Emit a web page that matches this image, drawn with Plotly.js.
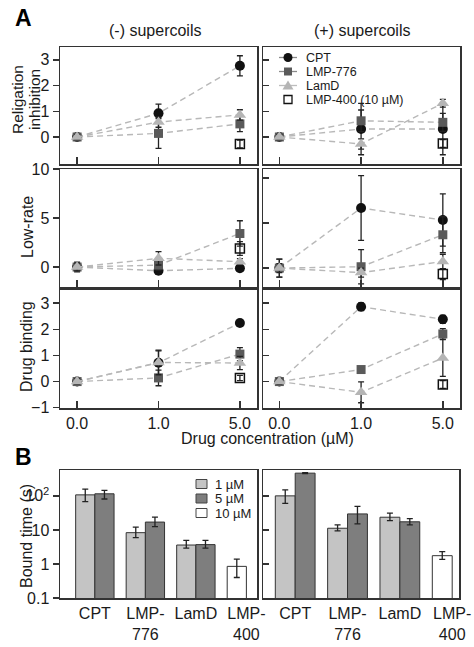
<!DOCTYPE html>
<html>
<head>
<meta charset="utf-8">
<script src="https://cdn.plot.ly/plotly-3.0.1.min.js"></script>
<style>html,body{margin:0;padding:0;background:#fff;}#chart{width:474px;height:647px;}</style>
</head>
<body>
<div id="chart"></div>
<script>
// ---------- DATA ----------
const conc = ['0.0', '1.0', '5.0'];
const conc400 = ['5.0'];

// Religation inhibition, (-) supercoils
const relNegCPT = [0, 0.92, 2.77],  relNegCPTErr = [0.1, 0.36, 0.39];
const relNeg776 = [0, 0.14, 0.51],  relNeg776Err = [0.1, 0.58, 0.3];
const relNegLamD = [0, 0.58, 0.86], relNegLamDErr = [0.1, 0.2, 0.2];
const relNeg400 = [-0.27],          relNeg400Err = [0.15];
// Religation inhibition, (+) supercoils
const relPosCPT = [0, 0.31, 0.31],  relPosCPTErr = [0.1, 1.0, 1.0];
const relPos776 = [0, 0.63, 0.57],  relPos776Err = [0.1, 0.42, 0.35];
const relPosLamD = [0, -0.27, 1.31], relPosLamDErr = [0.1, 0.2, 0.15];
const relPos400 = [-0.25],          relPos400Err = [0.15];
// Low-rate, (-) supercoils
const lowNegCPT = [0, -0.38, -0.13], lowNegCPTErr = [0.3, 0.3, 0.3];
const lowNeg776 = [0, 0.2, 3.43],    lowNeg776Err = [0.5, 0.5, 1.3];
const lowNegLamD = [0, 0.89, 0.55],  lowNegLamDErr = [0.4, 0.68, 0.3];
const lowNeg400 = [1.9],             lowNeg400Err = [0.7];
// Low-rate, (+) supercoils
const lowPosCPT = [0, 6.67, 5.33],   lowPosCPTErr = [1.0, 3.6, 2.9];
const lowPos776 = [0, 0.15, 3.7],    lowPos776Err = [1.0, 1.9, 2.0];
const lowPosLamD = [0, -0.5, 0.73],  lowPosLamDErr = [0.5, 0.5, 0.8];
const lowPos400 = [-0.67],           lowPos400Err = [0.6];
// Drug binding, (-) supercoils
const bindNegCPT = [0, 0.72, 2.24],  bindNegCPTErr = [0.1, 0.45, 0.1];
const bindNeg776 = [0, 0.14, 1.05],  bindNeg776Err = [0.1, 0.3, 0.25];
const bindNegLamD = [0, 0.73, 0.71], bindNegLamDErr = [0.1, 0.47, 0.25];
const bindNeg400 = [0.14],           bindNeg400Err = [0.1];
// Drug binding, (+) supercoils
const bindPosCPT = [0, 2.86, 2.38],  bindPosCPTErr = [0.1, 0.15, 0.15];
const bindPos776 = [0, 0.46, 1.82],  bindPos776Err = [0.1, 0.1, 0.2];
const bindPosLamD = [0, -0.41, 0.9], bindPosLamDErr = [0.1, 0.4, 0.7];
const bindPos400 = [-0.11],          bindPos400Err = [0.15];

// Panel B: bound time (s)
const drugs = ['CPT', 'LMP-776', 'LamD', 'LMP-400'];
const drugLabels = ['CPT', 'LMP-<br>776', 'LamD', 'LMP-<br>400'];
const negBar1 = [107, 8.3, 3.6, null],  negBar1Up = [51, 3.7, 1.3, 0],  negBar1Dn = [39, 2.4, 0.7, 0];
const negBar5 = [115, 17, 3.7, null],   negBar5Up = [30, 6.6, 1.2, 0],  negBar5Dn = [34, 4.5, 0.8, 0];
const negBar10 = [null, null, null, 0.85], negBar10Up = [0, 0, 0, 0.53], negBar10Dn = [0, 0, 0, 0.45];
const posBar1 = [100, 11.2, 23.6, null], posBar1Up = [50, 2.8, 7.4, 0], posBar1Dn = [40, 1.8, 4.9, 0];
const posBar5 = [465, 29.5, 17.3, null], posBar5Up = [15, 19.5, 4.2, 0], posBar5Dn = [15, 14.5, 3.3, 0];
const posBar10 = [null, null, null, 1.75], posBar10Up = [0, 0, 0, 0.55], posBar10Dn = [0, 0, 0, 0.38];

const seriesNames = ['CPT', 'LMP-776', 'LamD', 'LMP-400 (10 µM)'];
const barNames = ['1 µM', '5 µM', '10 µM'];
const tickY1 = [0, 1, 2, 3];
const tickY2 = [0, 5, 10];
const tickY3 = [-1, 0, 1, 2, 3];
const tickB = [0.1, 1, 10, 100];
const tickBText = ['0.1', '1', '10', '10<sup>2</sup>'];

// ---------- HELPERS ----------
const W = 474, H = 647;
const fx = p => p / W;
const fy = p => 1 - p / H;
const FONT = 'Liberation Sans, Arial, sans-serif';
const INK = '#1a1a1a';
const C_CPT = '#111111', C_776 = '#5a5a5a', C_LAMD = '#b5b5b5';
const LINE_C = '#b8b8b8';
const errStyle = (arr) => ({type: 'data', array: arr, color: '#222', thickness: 1.3, width: 3});

const traces = [];
function addPanel(n, cpt, cptE, l776, l776E, lamd, lamdE, l400, l400E) {
  const ax = {xaxis: 'x' + n, yaxis: 'y' + n};
  const ln = {dash: '6px,4px', color: LINE_C, width: 1.4};
  traces.push(Object.assign({type: 'scatter', mode: 'lines+markers', name: seriesNames[0], x: conc, y: cpt,
    line: ln, marker: {symbol: 'circle', size: 10, color: C_CPT}, error_y: errStyle(cptE)}, ax));
  traces.push(Object.assign({type: 'scatter', mode: 'lines+markers', name: seriesNames[1], x: conc, y: l776,
    line: ln, marker: {symbol: 'square', size: 9, color: C_776}, error_y: errStyle(l776E)}, ax));
  traces.push(Object.assign({type: 'scatter', mode: 'lines+markers', name: seriesNames[2], x: conc, y: lamd,
    line: ln, marker: {symbol: 'triangle-up', size: 11, color: C_LAMD}, error_y: errStyle(lamdE)}, ax));
  traces.push(Object.assign({type: 'scatter', mode: 'markers', name: seriesNames[3], x: conc400, y: l400,
    marker: {symbol: 'square-open', size: 9, color: '#111', line: {width: 1.5}}, error_y: errStyle(l400E)}, ax));
}
addPanel(1, relNegCPT, relNegCPTErr, relNeg776, relNeg776Err, relNegLamD, relNegLamDErr, relNeg400, relNeg400Err);
addPanel(2, relPosCPT, relPosCPTErr, relPos776, relPos776Err, relPosLamD, relPosLamDErr, relPos400, relPos400Err);
addPanel(3, lowNegCPT, lowNegCPTErr, lowNeg776, lowNeg776Err, lowNegLamD, lowNegLamDErr, lowNeg400, lowNeg400Err);
addPanel(4, lowPosCPT, lowPosCPTErr, lowPos776, lowPos776Err, lowPosLamD, lowPosLamDErr, lowPos400, lowPos400Err);
addPanel(5, bindNegCPT, bindNegCPTErr, bindNeg776, bindNeg776Err, bindNegLamD, bindNegLamDErr, bindNeg400, bindNeg400Err);
addPanel(6, bindPosCPT, bindPosCPTErr, bindPos776, bindPos776Err, bindPosLamD, bindPosLamDErr, bindPos400, bindPos400Err);

const BAR_W = 0.38;
const barColors = ['#c4c4c4', '#7e7e7e', '#ffffff'];
function addBars(n, b1, b1u, b1d, b5, b5u, b5d, b10, b10u, b10d) {
  const sets = [[b1, b1u, b1d, -BAR_W], [b5, b5u, b5d, 0], [b10, b10u, b10d, -BAR_W]];
  sets.forEach((s, i) => {
    traces.push({type: 'bar', name: barNames[i], x: drugs, y: s[0], xaxis: 'x' + n, yaxis: 'y' + n,
      width: BAR_W, offset: s[3],
      marker: {color: barColors[i], line: {color: '#333', width: 1}},
      error_y: {type: 'data', symmetric: false, array: s[1], arrayminus: s[2], color: '#222', thickness: 1.3, width: 3}});
  });
}
addBars(7, negBar1, negBar1Up, negBar1Dn, negBar5, negBar5Up, negBar5Dn, negBar10, negBar10Up, negBar10Dn);
addBars(8, posBar1, posBar1Up, posBar1Dn, posBar5, posBar5Up, posBar5Dn, posBar10, posBar10Up, posBar10Dn);

// ---------- LAYOUT ----------
const tickFont = {family: FONT, size: 16, color: INK};
const boxLine = {showline: true, mirror: true, linecolor: '#333', linewidth: 1.5, zeroline: false, showgrid: false};
const layout = {
  width: W, height: H, margin: {l: 0, r: 0, t: 0, b: 0},
  paper_bgcolor: '#fff', plot_bgcolor: '#fff',
  showlegend: false, barmode: 'overlay',
  font: {family: FONT, color: INK},
  annotations: [], shapes: []
};
const colX = [[60, 257], [263, 460]];
const rowY = [[47, 164], [169, 287], [290, 408]];
const yRanges = [[[-1.05, 3.5], [-1.05, 3.5]], [[-2.04, 10.02], [-2.1, 11]], [[-1.01, 3.5], [-1.01, 3.5]]];
const yTicks = [tickY1, tickY2, tickY3];
let n = 1;
for (let r = 0; r < 3; r++) {
  for (let c = 0; c < 2; c++) {
    const xs = n === 1 ? 'xaxis' : 'xaxis' + n;
    const ys = n === 1 ? 'yaxis' : 'yaxis' + n;
    layout[xs] = Object.assign({}, boxLine, {
      domain: [fx(colX[c][0]), fx(colX[c][1])], anchor: 'y' + (n === 1 ? '' : n),
      type: 'category', categoryorder: 'array', categoryarray: conc,
      range: c === 0 ? [-0.21, 2.21] : [-0.2, 2.21],
      ticks: 'inside', ticklen: 7, tickwidth: 1.5, tickcolor: '#333',
      showticklabels: r === 2, tickfont: tickFont
    });
    layout[ys] = Object.assign({}, boxLine, {
      domain: [fy(rowY[r][1]), fy(rowY[r][0])], anchor: 'x' + (n === 1 ? '' : n),
      range: yRanges[r][c], tickmode: 'array', tickvals: yTicks[r],
      ticks: c === 0 ? 'outside' : 'inside', ticklen: 6, tickwidth: 1.5, tickcolor: '#333',
      showticklabels: c === 0, tickfont: tickFont
    });
    n++;
  }
}
const colXB = [[60, 257], [263, 459]];
const xRangeB = [[-0.69, 3.21], [-0.615, 3.13]];
for (let c = 0; c < 2; c++) {
  const k = 7 + c;
  layout['xaxis' + k] = Object.assign({}, boxLine, {
    domain: [fx(colXB[c][0]), fx(colXB[c][1])], anchor: 'y' + k,
    type: 'category', categoryorder: 'array', categoryarray: drugs, range: xRangeB[c],
    tickmode: 'array', tickvals: drugs, ticktext: drugLabels, ticks: '', tickfont: tickFont
  });
  layout['yaxis' + k] = Object.assign({}, boxLine, {
    domain: [fy(598), fy(470)], anchor: 'x' + k, type: 'log', range: [-1, 2.76],
    tickmode: 'array', tickvals: tickB, ticktext: tickBText,
    ticks: c === 0 ? 'outside' : 'inside', ticklen: 6, tickwidth: 1.5, tickcolor: '#333',
    showticklabels: c === 0, tickfont: tickFont
  });
}

// ---------- TEXT ----------
function ann(text, x, y, opts) {
  layout.annotations.push(Object.assign({text: text, xref: 'paper', yref: 'paper', x: fx(x), y: fy(y),
    xanchor: 'center', yanchor: 'middle', showarrow: false, borderpad: 0,
    font: {family: FONT, size: 16, color: INK}}, opts || {}));
}
ann('<b>A</b>', 23, 18, {font: {family: FONT, size: 23, color: '#000'}});
ann('<b>B</b>', 23, 457, {font: {family: FONT, size: 23, color: '#000'}});
ann('(-) supercoils', 155, 31);
ann('(+) supercoils', 362, 31);
ann('Religation', 17, 100, {textangle: -90, font: {family: FONT, size: 15.5, color: INK}});
ann('inhibition', 34, 100, {textangle: -90, font: {family: FONT, size: 15.5, color: INK}});
ann('Low-rate', 27, 227, {textangle: -90});
ann('Drug binding', 27, 347, {textangle: -90});
ann('Bound time (s)', 26, 536, {textangle: -90});
ann('Drug concentration (µM)', 267, 438);

// ---------- LEGEND A (drawn) ----------
const legRows = [57.5, 71.5, 85.5, 99.5];
const legLineC = ['#8a8a8a', '#8a8a8a', '#bdbdbd'];
const LX = 288;
for (let i = 0; i < 3; i++) {
  layout.shapes.push({type: 'line', xref: 'paper', yref: 'paper', x0: fx(LX - 9), x1: fx(LX + 9),
    y0: fy(legRows[i]), y1: fy(legRows[i]), line: {color: legLineC[i], width: 1.3}});
}
layout.shapes.push({type: 'circle', xref: 'paper', yref: 'paper', x0: fx(LX - 4.5), x1: fx(LX + 4.5),
  y0: fy(legRows[0] + 4.5), y1: fy(legRows[0] - 4.5), fillcolor: C_CPT, line: {width: 0}});
layout.shapes.push({type: 'rect', xref: 'paper', yref: 'paper', x0: fx(LX - 4), x1: fx(LX + 4),
  y0: fy(legRows[1] + 4), y1: fy(legRows[1] - 4), fillcolor: C_776, line: {width: 0}});
const tr = legRows[2];
layout.shapes.push({type: 'path', xref: 'paper', yref: 'paper',
  path: `M ${fx(LX - 5.5)},${fy(tr + 4)} L ${fx(LX + 5.5)},${fy(tr + 4)} L ${fx(LX)},${fy(tr - 5)} Z`,
  fillcolor: C_LAMD, line: {width: 0}});
layout.shapes.push({type: 'rect', xref: 'paper', yref: 'paper', x0: fx(LX - 4), x1: fx(LX + 4),
  y0: fy(legRows[3] + 4), y1: fy(legRows[3] - 4), fillcolor: '#fff', line: {color: '#111', width: 1.3}});
seriesNames.forEach((s, i) => ann(s, 305, legRows[i], {xanchor: 'left', font: {family: FONT, size: 12.5, color: INK}}));

// ---------- LEGEND B (drawn) ----------
const legRowsB = [484, 498.5, 513];
barNames.forEach((s, i) => {
  layout.shapes.push({type: 'rect', xref: 'paper', yref: 'paper', x0: fx(196), x1: fx(207),
    y0: fy(legRowsB[i] + 4.5), y1: fy(legRowsB[i] - 4.5), fillcolor: barColors[i], line: {color: '#444', width: 1}});
  ann(s, 214, legRowsB[i], {xanchor: 'left', font: {family: FONT, size: 13, color: INK}});
});

Plotly.newPlot('chart', traces, layout, {staticPlot: true, displayModeBar: false});
</script>
</body>
</html>
